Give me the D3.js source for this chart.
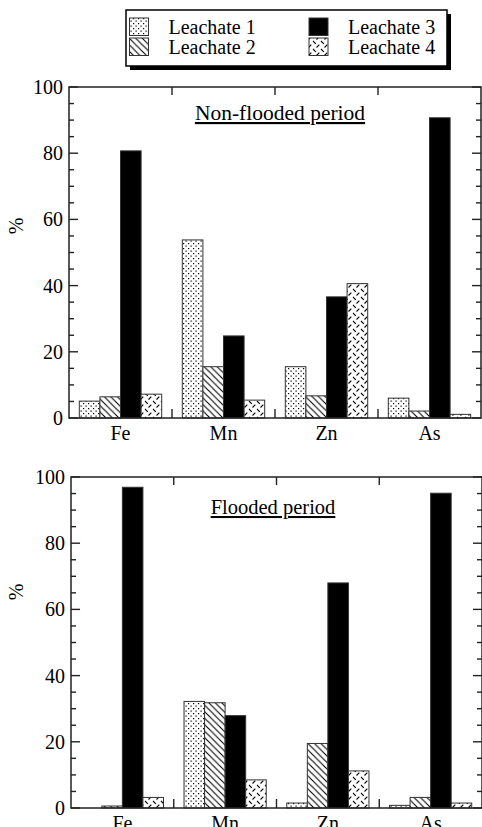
<!DOCTYPE html>
<html><head><meta charset="utf-8">
<script src="https://cdn.jsdelivr.net/npm/d3@7"></script>
<style>
html,body{margin:0;padding:0;background:#fff;}
svg{display:block;}
svg text{font-family:"Liberation Serif","DejaVu Serif","Times New Roman",serif !important;fill:#000;}
</style></head>
<body>
<svg id="c" width="482" height="827"></svg>
<script>
const categories = ["Fe","Mn","Zn","As"];
const seriesNames = ["Leachate 1","Leachate 2","Leachate 3","Leachate 4"];
const nonFlooded = {
  "Leachate 1": [5.1, 53.8, 15.5, 6.0],
  "Leachate 2": [6.4, 15.5, 6.7, 2.1],
  "Leachate 3": [80.7, 24.8, 36.6, 90.7],
  "Leachate 4": [7.2, 5.4, 40.6, 1.1]
};
const flooded = {
  "Leachate 1": [0, 32.2, 1.5, 0.8],
  "Leachate 2": [0.6, 31.8, 19.5, 3.2],
  "Leachate 3": [96.9, 27.9, 68.0, 95.1],
  "Leachate 4": [3.2, 8.5, 11.2, 1.5]
};
const yMajorTicks = [0,20,40,60,80,100];
const panelTitles = ["Non-flooded period","Flooded period"];
const yLabel = "%";

const svg = d3.select("#c");
const defs = svg.append("defs");

// patterns
const p1 = defs.append("pattern").attr("id","pat1").attr("patternUnits","userSpaceOnUse").attr("width",5).attr("height",5);
p1.append("rect").attr("width",5).attr("height",5).attr("fill","#fff");
p1.append("rect").attr("x",0.5).attr("y",0.5).attr("width",1.2).attr("height",1.2).attr("fill","#000");
p1.append("rect").attr("x",3).attr("y",3).attr("width",1.2).attr("height",1.2).attr("fill","#000");

const p2 = defs.append("pattern").attr("id","pat2").attr("patternUnits","userSpaceOnUse").attr("width",6.5).attr("height",6.5);
p2.append("rect").attr("width",6.5).attr("height",6.5).attr("fill","#fff");
p2.append("path").attr("d","M-1,-1 L7.5,7.5 M-1,5.5 L1,7.5 M5.5,-1 L7.5,1").attr("stroke","#000").attr("stroke-width",1.1);

const p4 = defs.append("pattern").attr("id","pat4").attr("patternUnits","userSpaceOnUse").attr("width",8).attr("height",8);
p4.append("rect").attr("width",8).attr("height",8).attr("fill","#fff");
p4.append("path").attr("d","M1,1 L3.8,3.8 M4.5,7.5 L7.3,4.7").attr("stroke","#000").attr("stroke-width",1.1);

const fills = {"Leachate 1":"url(#pat1)","Leachate 2":"url(#pat2)","Leachate 3":"#000","Leachate 4":"url(#pat4)"};

function panel(data, box, title, titleX, titleY, titleSize, labelY) {
  const g = svg.append("g");
  const x0 = d3.scaleBand().domain(categories).range([box.l, box.r]).paddingInner(0).paddingOuter(0);
  const bw = x0.bandwidth();
  const x1 = d3.scaleBand().domain(seriesNames).range([0.1*bw, 0.9*bw]).padding(0);
  const y = d3.scaleLinear().domain([0,100]).range([box.b, box.t]);

  // bars
  seriesNames.forEach(s => {
    g.selectAll(null).data(data[s].map((v,i)=>({c:categories[i],v:v})).filter(d=>d.v>0))
      .enter().append("rect")
      .attr("x", d => x0(d.c) + x1(s))
      .attr("y", d => y(d.v))
      .attr("width", x1.bandwidth())
      .attr("height", d => y(0) - y(d.v))
      .attr("fill", fills[s])
      .attr("stroke", "#333").attr("stroke-width", 1);
  });

  // left axis labels
  const minor = d3.range(0,101,5);
  const left = d3.axisLeft(y).tickValues(yMajorTicks).tickSize(0).tickPadding(6).tickFormat(d3.format("d"));
  const ax = g.append("g").attr("transform",`translate(${box.l},0)`).call(left);
  ax.attr("font-family",null);
  ax.select(".domain").remove();
  ax.selectAll("text").attr("font-size",20);
  // inner ticks both sides
  minor.forEach(v => {
    const len = v % 20 === 0 ? 9 : 5;
    g.append("line").attr("x1",box.l).attr("x2",box.l+len).attr("y1",y(v)).attr("y2",y(v)).attr("stroke","#222").attr("stroke-width",1.4);
    g.append("line").attr("x1",box.r).attr("x2",box.r-len).attr("y1",y(v)).attr("y2",y(v)).attr("stroke","#222").attr("stroke-width",1.4);
  });
  // category boundary ticks
  categories.slice(1).forEach(c => {
    const xx = x0(c);
    g.append("line").attr("x1",xx).attr("x2",xx).attr("y1",box.b).attr("y2",box.b-9).attr("stroke","#222").attr("stroke-width",1.4);
    g.append("line").attr("x1",xx).attr("x2",xx).attr("y1",box.t).attr("y2",box.t+8).attr("stroke","#222").attr("stroke-width",1.4);
  });
  // bottom axis labels
  const bottom = d3.axisBottom(x0).tickSize(0).tickPadding(8);
  const bx = g.append("g").attr("transform",`translate(0,${box.b})`).call(bottom);
  bx.attr("font-family",null);
  bx.select(".domain").remove();
  bx.selectAll("text").attr("font-size",20);
  // frame
  g.append("rect").attr("x",box.l).attr("y",box.t).attr("width",box.r-box.l).attr("height",box.b-box.t)
    .attr("fill","none").attr("stroke","#222").attr("stroke-width",1.5);
  // title
  g.append("text").attr("x",titleX).attr("y",titleY).attr("text-anchor","middle")
    .attr("font-size",titleSize).attr("text-decoration","underline").text(title);
  // y label
  g.append("text").attr("transform",`translate(23,${labelY}) rotate(-90)`).attr("text-anchor","middle")
    .attr("font-size",20).text(yLabel);
}

panel(nonFlooded, {l:69, r:481, t:87, b:418}, panelTitles[0], 280, 120, 21.5, 226);
panel(flooded, {l:71, r:482, t:477, b:808}, panelTitles[1], 273, 514, 20.5, 592);

// legend
const lg = svg.append("g");
lg.append("rect").attr("x",130).attr("y",14).attr("width",321).attr("height",56).attr("fill","#000");
lg.append("rect").attr("x",126).attr("y",10).attr("width",321).attr("height",56).attr("fill","#fff").attr("stroke","#000").attr("stroke-width",1.5);
const legPos = [
  {sx:129.5, ty:34, sy:18},
  {sx:129.5, ty:54, sy:38},
  {sx:309, ty:34, sy:18},
  {sx:309, ty:54, sy:38}
];
seriesNames.forEach((s,i) => {
  const p = legPos[i];
  lg.append("rect").attr("x",p.sx).attr("y",p.sy).attr("width",19).attr("height",17.5).attr("fill",fills[s]).attr("stroke","#333").attr("stroke-width",1);
  lg.append("text").attr("x",p.sx+39).attr("y",p.ty).attr("font-size",20).text(s);
});
</script>
</body></html>
